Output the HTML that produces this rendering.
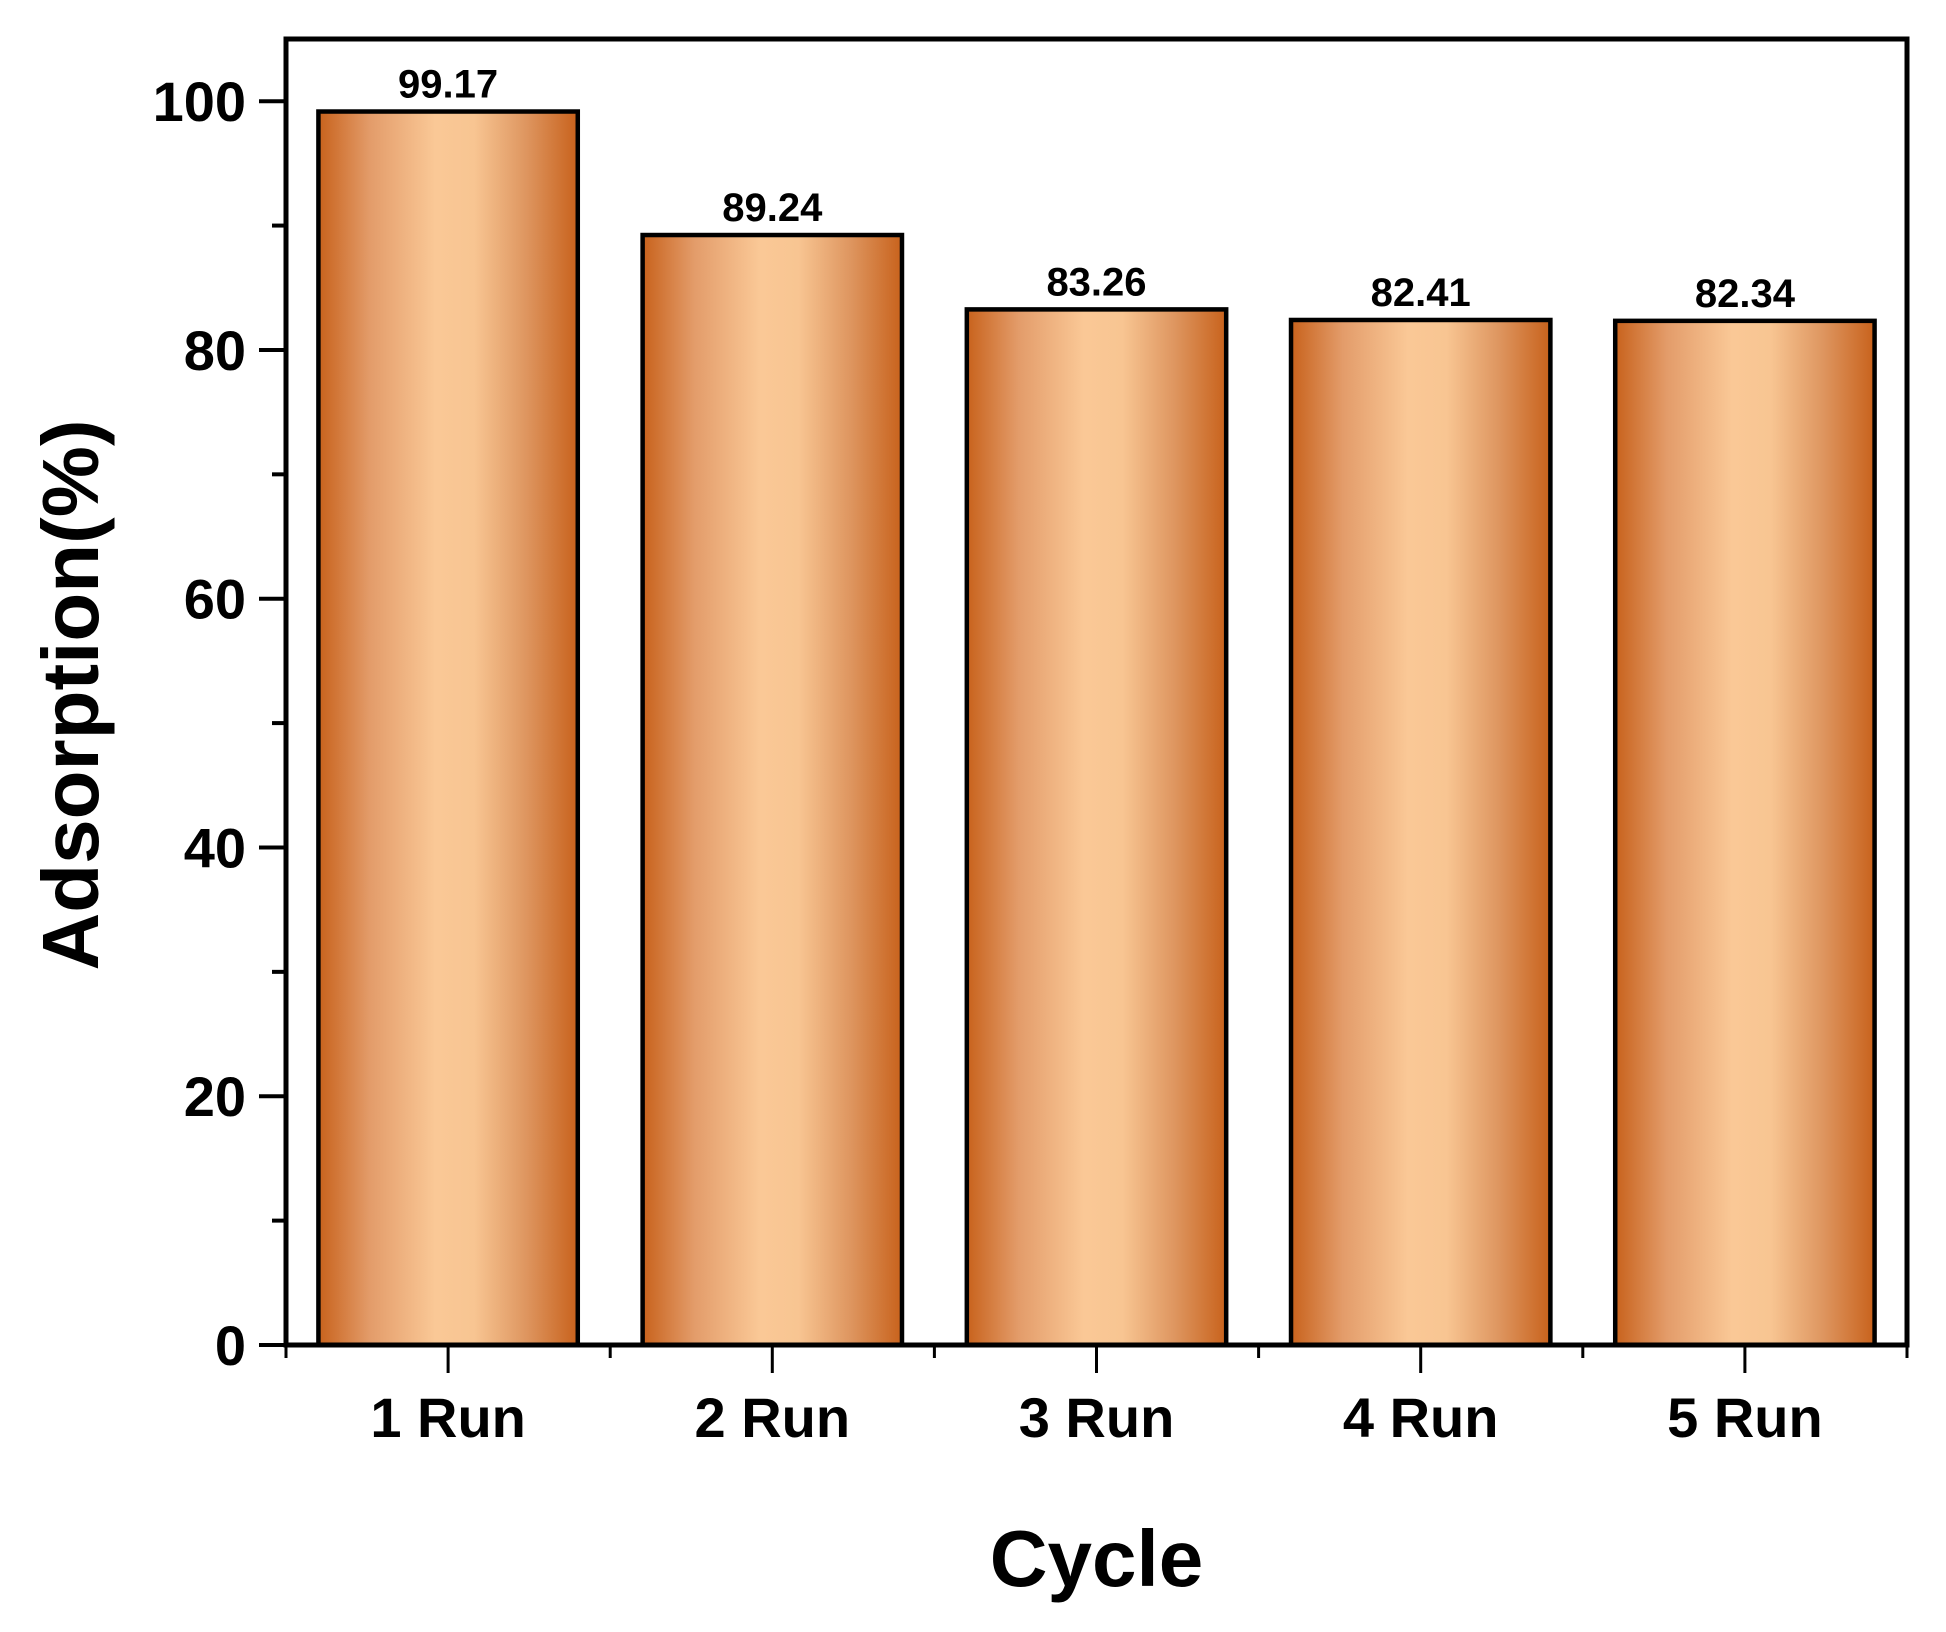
<!DOCTYPE html>
<html><head><meta charset="utf-8"><style>
html,body{margin:0;padding:0;background:#fff}
svg{display:block}
text{font-family:"Liberation Sans",sans-serif;font-weight:bold;fill:#000}
</style></head><body>
<svg id="chart" width="1946" height="1632" viewBox="0 0 1946 1632" xmlns="http://www.w3.org/2000/svg">
<defs>
<linearGradient id="copper" x1="0" y1="0" x2="1" y2="0">
<stop offset="0" stop-color="#c8621c"/>
<stop offset="0.2" stop-color="#e39c6a"/>
<stop offset="0.45" stop-color="#fac896"/>
<stop offset="0.6" stop-color="#f8c592"/>
<stop offset="0.8" stop-color="#de9660"/>
<stop offset="1" stop-color="#c8621c"/>
</linearGradient>
</defs>
<g id="marks"></g>
</svg>
<script>
const categories = ["1 Run","2 Run","3 Run","4 Run","5 Run"];
const values = [99.17, 89.24, 83.26, 82.41, 82.34];
const valueLabels = ["99.17","89.24","83.26","82.41","82.34"];
const yTicks = [0,20,40,60,80,100];
const yMinorTicks = [10,30,50,70,90];

const L=286,R=1907,T=39,B=1345,YMAX=105;
const band=(R-L)/categories.length;
const xs=i=>L+band*(i+0.5);
const ys=v=>B-(v/YMAX)*(B-T);
const NS="http://www.w3.org/2000/svg";
const g=document.getElementById('marks');
function mk(tag,attrs,parent){const e=document.createElementNS(NS,tag);for(const k in attrs)e.setAttribute(k,attrs[k]);(parent||g).appendChild(e);return e;}

categories.forEach((c,i)=>{
  const w=band*0.8, x=xs(i)-w/2, y=ys(values[i]);
  const r=mk('rect',{x:x,y:y,width:w,height:B-y,fill:'url(#copper)',stroke:'#000','stroke-width':4.5});
  
  
  const t=mk('text',{x:xs(i),y:y-14,'font-size':40,'text-anchor':'middle'});
  t.textContent=valueLabels[i];
  
  
  const tl=mk('text',{x:xs(i),y:1437,'font-size':56,'text-anchor':'middle'});
  tl.textContent=c;
  
  
  const tk=mk('line',{x1:xs(i),x2:xs(i),y1:B,y2:B+28,stroke:'#000','stroke-width':3});
  
  
});
for(let i=0;i<=categories.length;i++){
  const x=L+band*i;
  const m=mk('line',{x1:x,x2:x,y1:B,y2:B+13,stroke:'#000','stroke-width':3});
  
  
}
yTicks.forEach(v=>{
  const l=mk('line',{x1:L-27,x2:L,y1:ys(v),y2:ys(v),stroke:'#000','stroke-width':4});
  
  
  const t=mk('text',{x:L-40,y:ys(v)+20,'font-size':56,'text-anchor':'end'});
  t.textContent=v;
  
  
});
yMinorTicks.forEach(v=>{
  const l=mk('line',{x1:L-14,x2:L,y1:ys(v),y2:ys(v),stroke:'#000','stroke-width':4});
  
  
});
const frame=mk('rect',{x:L,y:T,width:R-L,height:B-T,fill:'none',stroke:'#000','stroke-width':5});


const yt=mk('text',{x:0,y:0,'font-size':80,'text-anchor':'middle',transform:'translate(98,695) rotate(-90)'});
yt.textContent='Adsorption(%)';


const xt=mk('text',{x:(L+R)/2,y:1586,'font-size':80,'text-anchor':'middle'});
xt.textContent='Cycle';


</script>
</body></html>
